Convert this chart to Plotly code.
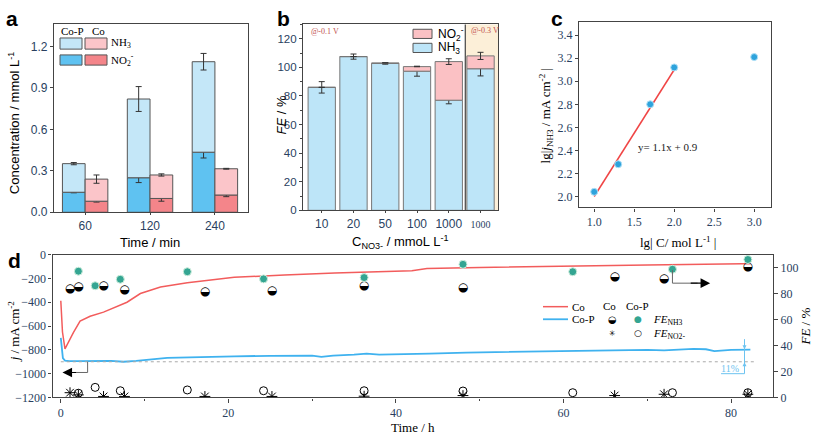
import plotly.graph_objects as go

W, H = 813, 441
def px(x): return x / W
def py(y): return 1 - y / H

SANS = "Liberation Sans, Arial, sans-serif"
SERIF = "Liberation Serif, Times New Roman, serif"

# ---------------- Panel a data ----------------
a_cats = ["60", "120", "240"]
a_cop_no2 = [0.145, 0.25, 0.435]
a_cop_total = [0.352, 0.82, 1.09]
a_cop_no2_err = [0.004, 0.035, 0.042]
a_cop_total_err = [0.008, 0.09, 0.06]
a_co_no2 = [0.08, 0.10, 0.125]
a_co_total = [0.24, 0.27, 0.315]
a_co_no2_err = [0.006, 0.02, 0.012]
a_co_total_err = [0.03, 0.008, 0.003]

# ---------------- Panel b data ----------------
b_cats = ["10", "20", "50", "100", "1000", "1000"]
b_nh3 = [86, 107.5, 102.7, 97.3, 77, 99]
b_nh3_err = [4, 1.8, 0.5, 3.5, 2.5, 5]
b_no2 = [0, 0, 0.4, 3.2, 27, 9]
b_total_err = [0, 0, 0, 0, 2, 2.5]

# ---------------- Panel c data ----------------
c_x = [1.0, 1.3, 1.7, 2.0, 3.0]
c_y = [2.04, 2.28, 2.80, 3.12, 3.21]
c_fit_x = [1.0, 2.0]
c_slope, c_intercept = 1.1, 0.9

# ---------------- Panel d data ----------------
d_co_t = [0, 0.2, 0.5, 0.9, 1.5, 2.3, 3.5, 5.1, 6.0, 7.0, 7.9, 9.5, 11.9, 15.1, 18.3,
          20.7, 26.7, 32.7, 41.9, 43.7, 50, 60.4, 70, 81.4, 82.3]
d_co_j = [-387, -650, -791, -736, -655, -559, -518, -483, -455, -425, -400, -327, -273,
          -237, -210, -191, -172, -155, -136, -117, -108, -95, -87, -76, -76]
d_cop_t = [0, 0.1, 0.25, 0.5, 1, 2, 4, 6, 7.5, 9, 12.7, 16, 20.7, 25, 30, 31.1, 32.5,
           35, 36.5, 38, 40.5, 44, 48.4, 52, 56, 60.4, 65, 70, 72, 75.5, 77, 78, 80, 82.3]
d_cop_j = [-700, -800, -870, -890, -895, -895, -893, -893, -900, -893, -867, -860, -854,
           -850, -848, -859, -848, -840, -832, -840, -839, -832, -823, -820, -815, -810,
           -805, -800, -805, -791, -795, -810, -800, -798]

co_fe_t = [1.1, 2.1, 5.1, 7.6, 17.2, 25.2, 36.2, 48.0, 66.1, 72.0, 82.0]
co_fe_nh3 = [83.8, 85.0, 85.5, 83.0, 81.1, 82.0, 85.5, 84.3, 93.0, 91.0, 100.5]
co_fe_no2 = [3.7, 2.0, 0.8, 0.8, 0.8, 0.8, 1.0, 1.5, 1.5, 2.5, 2.5]
cop_fe_t = [2.1, 4.1, 7.1, 15.1, 24.2, 36.2, 48.0, 61.1, 73.0, 82.0]
cop_fe_nh3 = [97.2, 86.0, 91.0, 96.8, 91.3, 92.3, 102.5, 96.8, 98.7, 106.2]
cop_fe_no2 = [3.3, 7.8, 5.2, 5.8, 5.2, 5.2, 5.0, 3.7, 3.7, 3.7]

# colours
C_COP_NH3 = "#c4e7f8"
C_COP_NO2 = "#5fc2f1"
C_CO_NH3 = "#fbc5c9"
C_CO_NO2 = "#f4858a"
EDGE = "#555555"
RED = "#f25c5c"
BLUE = "#3fb2ef"
TEAL = "#34a592"

fig = go.Figure()

# ---------------- Panel a ----------------
bw = 0.35
xi = list(range(len(a_cats)))
cop_x = [i - bw / 2 for i in xi]
co_x = [i + bw / 2 for i in xi]
ebar = lambda arr: dict(type="data", array=arr, color="#333", thickness=1, width=3)

fig.add_bar(x=cop_x, y=a_cop_no2, width=bw, marker=dict(color=C_COP_NO2, line=dict(color=EDGE, width=1)),
            error_y=ebar(a_cop_no2_err), xaxis="x", yaxis="y", showlegend=False)
fig.add_bar(x=cop_x, y=[t - n for t, n in zip(a_cop_total, a_cop_no2)], base=a_cop_no2, width=bw,
            marker=dict(color=C_COP_NH3, line=dict(color=EDGE, width=1)),
            error_y=ebar(a_cop_total_err), xaxis="x", yaxis="y", showlegend=False)
fig.add_bar(x=co_x, y=a_co_no2, width=bw, marker=dict(color=C_CO_NO2, line=dict(color=EDGE, width=1)),
            error_y=ebar(a_co_no2_err), xaxis="x", yaxis="y", showlegend=False)
fig.add_bar(x=co_x, y=[t - n for t, n in zip(a_co_total, a_co_no2)], base=a_co_no2, width=bw,
            marker=dict(color=C_CO_NH3, line=dict(color=EDGE, width=1)),
            error_y=ebar(a_co_total_err), xaxis="x", yaxis="y", showlegend=False)

# ---------------- Panel b ----------------
bxi = list(range(len(b_cats)))
fig.add_bar(x=bxi, y=b_nh3, width=0.86, marker=dict(color="#bde5f8", line=dict(color="#777", width=1)),
            error_y=ebar(b_nh3_err), xaxis="x2", yaxis="y2", showlegend=False)
fig.add_bar(x=bxi, y=b_no2, base=b_nh3, width=0.86, marker=dict(color="#fbc1c4", line=dict(color="#777", width=1)),
            error_y=dict(type="data", array=b_total_err, color="#333", thickness=1, width=3),
            xaxis="x2", yaxis="y2", showlegend=False)

# ---------------- Panel c ----------------
fig.add_scatter(x=c_fit_x, y=[c_slope * v + c_intercept for v in c_fit_x], mode="lines",
                line=dict(color="#f04545", width=1.5), xaxis="x3", yaxis="y3", showlegend=False)
fig.add_scatter(x=c_x, y=c_y, mode="markers",
                marker=dict(color="#2ea3dc", size=7, line=dict(color="#aee0f7", width=1)),
                xaxis="x3", yaxis="y3", showlegend=False)

# ---------------- Panel d ----------------
fig.add_scatter(x=d_co_t, y=d_co_j, mode="lines", line=dict(color=RED, width=1.5),
                xaxis="x4", yaxis="y4", showlegend=False)
fig.add_scatter(x=d_cop_t, y=d_cop_j, mode="lines", line=dict(color=BLUE, width=1.8),
                xaxis="x4", yaxis="y4", showlegend=False)
fig.add_scatter(x=co_fe_t, y=co_fe_nh3, mode="text", text=["◒"] * len(co_fe_t),
                textfont=dict(family="DejaVu Sans", size=12, color="black"),
                xaxis="x4", yaxis="y5", showlegend=False)
fig.add_scatter(x=cop_fe_t, y=cop_fe_nh3, mode="markers",
                marker=dict(color=TEAL, size=8, line=dict(color="#cfeedd", width=1)),
                xaxis="x4", yaxis="y5", showlegend=False)
fig.add_scatter(x=co_fe_t, y=co_fe_no2, mode="markers",
                marker=dict(symbol="asterisk-open", size=9, color="black", line=dict(color="black", width=1)),
                xaxis="x4", yaxis="y5", showlegend=False)
fig.add_scatter(x=cop_fe_t, y=cop_fe_no2, mode="markers",
                marker=dict(symbol="circle-open", size=8, color="black", line=dict(width=1)),
                xaxis="x4", yaxis="y5", showlegend=False)

shapes = []
annotations = []

# panel b: background for last category and separator
shapes.append(dict(type="rect", xref="x2", yref="y2 domain", x0=4.52, x1=5.55, y0=0, y1=1,
                   fillcolor="#fcefd8", line=dict(width=0), layer="below"))
shapes.append(dict(type="line", xref="x2", yref="y2 domain", x0=4.52, x1=4.52, y0=0, y1=1,
                   line=dict(color="#444", width=1.2)))

# panel d: dotted reference line
shapes.append(dict(type="line", xref="x4", yref="y4", x0=0, x1=83, y0=-900, y1=-900,
                   line=dict(color="#aaaaaa", width=1, dash="dot")))
# left bent arrow
shapes.append(dict(type="path", xref="x4", yref="y4", path="M 3.2,-900 L 3.2,-990 L 1.5,-990",
                   line=dict(color="#666", width=1)))
annotations.append(dict(xref="x4", yref="y4", x=0.2, y=-990, ax=2.0, ay=-990, axref="x4", ayref="y4",
                        showarrow=True, arrowhead=2, arrowsize=1.6, arrowwidth=1.2, arrowcolor="black", text=""))
# right bent arrow (FE axis)
shapes.append(dict(type="path", xref="x4", yref="y5", path="M 73,98 L 73,88 L 76,88",
                   line=dict(color="#666", width=1)))
annotations.append(dict(xref="x4", yref="y5", x=77.5, y=88, ax=75.0, ay=88, axref="x4", ayref="y5",
                        showarrow=True, arrowhead=2, arrowsize=1.6, arrowwidth=1.2, arrowcolor="black", text=""))
# 11% marker
shapes.append(dict(type="line", xref="x4", yref="y4", x0=81.6, x1=81.6, y0=-710, y1=-1000,
                   line=dict(color="#6cc3f0", width=1)))
shapes.append(dict(type="line", xref="x4", yref="y4", x0=78.8, x1=81.6, y0=-1000, y1=-1000,
                   line=dict(color="#6cc3f0", width=1)))
annotations.append(dict(xref="x4", yref="y4", x=81.6, y=-795, ax=81.6, ay=-730, axref="x4", ayref="y4",
                        showarrow=True, arrowhead=2, arrowsize=0.8, arrowwidth=1, arrowcolor="#6cc3f0", text=""))
annotations.append(dict(xref="x4", yref="y4", x=81.6, y=-905, ax=81.6, ay=-975, axref="x4", ayref="y4",
                        showarrow=True, arrowhead=2, arrowsize=0.8, arrowwidth=1, arrowcolor="#6cc3f0", text=""))
annotations.append(dict(xref="x4", yref="y4", x=79.9, y=-955, text="11%", showarrow=False,
                        font=dict(family=SERIF, size=10, color="#6cc3f0")))

# ---------------- legends ----------------
def rect(x0, y0, x1, y1, color):
    shapes.append(dict(type="rect", xref="paper", yref="paper", x0=px(x0), x1=px(x1), y0=py(y1), y1=py(y0),
                       fillcolor=color, line=dict(color=EDGE, width=1)))

def txt(x, y, s, size=11, family=SERIF, color="black", xanchor="center", angle=0, yanchor="middle"):
    annotations.append(dict(xref="paper", yref="paper", x=px(x), y=py(y), text=s, showarrow=False,
                            xanchor=xanchor, yanchor=yanchor, textangle=angle,
                            font=dict(family=family, size=size, color=color)))

# panel a legend
txt(72, 25, "Co-P", 11)
txt(98, 25, "Co", 11)
rect(60, 32, 82, 43.5, C_COP_NH3)
rect(85, 32, 107, 43.5, C_CO_NH3)
rect(60, 49.5, 82, 60, C_COP_NO2)
rect(85, 49.5, 107, 60, C_CO_NO2)
txt(109, 37.5, "NH<sub>3</sub>", 11, xanchor="left")
txt(109, 54.5, "NO<sub>2</sub><sup>-</sup>", 11, xanchor="left")

# panel b legend
rect(413, 23, 432, 32.5, "#fbc1c4")
rect(413, 37.5, 432, 47, "#bde5f8")
txt(436, 27.5, "NO<sub>2</sub><sup>-</sup>", 12, family=SANS, xanchor="left")
txt(436, 42, "NH<sub>3</sub>", 12, family=SANS, xanchor="left")
txt(309, 25, "@-0.1 V", 8, family=SERIF, color="#c0504d", xanchor="left")
txt(469, 24, "@-0.3 V", 8, family=SERIF, color="#c0504d", xanchor="left")

# panel c equation
annotations.append(dict(xref="x3", yref="y3", x=1.52, y=2.43, text="y= 1.1x + 0.9", showarrow=False,
                        xanchor="left", font=dict(family=SERIF, size=11, color="#222")))

# panel d legend
shapes.append(dict(type="line", xref="paper", yref="paper", x0=px(543), x1=px(568), y0=py(309.5), y1=py(309.5),
                   line=dict(color=RED, width=1.5)))
shapes.append(dict(type="line", xref="paper", yref="paper", x0=px(543), x1=px(568), y0=py(322.5), y1=py(322.5),
                   line=dict(color=BLUE, width=1.8)))
txt(570, 309.5, "Co", 11, xanchor="left")
txt(570, 322.5, "Co-P", 11, xanchor="left")
txt(609, 308.5, "Co", 11)
txt(637, 308.5, "Co-P", 11)
txt(612.5, 322.5, "◒", 10, family="DejaVu Sans")
txt(637.5, 322.5, "●", 9, family="DejaVu Sans", color=TEAL)
txt(612.5, 337, "✳", 8, family="DejaVu Sans")
txt(637.5, 337, "○", 9, family="DejaVu Sans")
txt(651, 323, "<i>FE</i><sub>NH3</sub>", 11, xanchor="left")
txt(651, 338, "<i>FE</i><sub>NO2-</sub>", 11, xanchor="left")

# panel letters
txt(4, 12, "<b>a</b>", 21, family=SANS, xanchor="left")
txt(275, 12, "<b>b</b>", 21, family=SANS, xanchor="left")
txt(549, 12, "<b>c</b>", 21, family=SANS, xanchor="left")
txt(6, 262, "<b>d</b>", 21, family=SANS, xanchor="left")

# axis titles
txt(14, 120, "Concentration / mmol L<sup>-1</sup>", 13, family=SANS, angle=-90)
txt(150, 243, "Time / min", 13, family=SANS)
txt(281, 112, "<i>FE</i> / %", 13, family=SANS, angle=-90)
txt(400, 243, "C<sub>NO3-</sub> / mmoL L<sup>-1</sup>", 13, family=SANS)
txt(546, 112, "lg|<i>j</i><sub>NH3</sub> / mA cm<sup>-2</sup> |", 13, family=SERIF, angle=-90)
txt(678, 243, "lg| C/ mol L<sup>-1</sup> |", 13, family=SERIF)
txt(14, 335, "<i>j</i> / mA cm<sup>-2</sup>", 13, family=SERIF, angle=-90)
txt(806, 330, "<i>FE</i> / %", 13, family=SERIF, angle=-90)
txt(413, 434, "Time / h", 13, family=SERIF)

def axline(tl=4):
    return dict(showline=True, linecolor="#444", linewidth=1.2, mirror=True, showgrid=False, zeroline=False,
                ticks="outside", ticklen=tl, tickcolor="#444")

fig.update_layout(
    width=W, height=H, margin=dict(l=0, r=0, t=0, b=0),
    paper_bgcolor="white", plot_bgcolor="white", barmode="overlay", showlegend=False,
    shapes=shapes, annotations=annotations,
    xaxis=dict(domain=[px(54), px(248)], range=[-0.48, 2.51], tickvals=xi, ticktext=a_cats,
               anchor="y", tickfont=dict(family=SANS, size=12), **axline(2)),
    yaxis=dict(domain=[py(212), py(18)], range=[0, 1.36], tickvals=[0, 0.3, 0.6, 0.9, 1.2],
               ticktext=["0.0", "0.3", "0.6", "0.9", "1.2"], anchor="x",
               tickfont=dict(family=SANS, size=12), **axline(3)),
    xaxis2=dict(domain=[px(303), px(498)], range=[-0.59, 5.55], tickvals=bxi,
                ticktext=b_cats[:5] + ["<span style='font-family:Liberation Serif;font-size:10px'>1000</span>"],
                anchor="y2", tickfont=dict(family=SANS, size=12), **axline(2)),
    yaxis2=dict(domain=[py(210), py(18)], range=[0, 130], tickvals=list(range(0, 121, 20)), anchor="x2",
                tickfont=dict(family=SANS, size=11.5),
                minor=dict(ticks="outside", ticklen=2, dtick=10, tickcolor="#444"), **axline(3)),
    xaxis3=dict(domain=[px(579), px(771)], range=[0.81, 3.21], tickvals=[1.0, 1.5, 2.0, 2.5, 3.0],
                tickformat=".1f", anchor="y3", tickfont=dict(family=SERIF, size=12), **axline(3)),
    yaxis3=dict(domain=[py(207), py(16)], range=[1.905, 3.51], tickvals=[2.0, 2.2, 2.4, 2.6, 2.8, 3.0, 3.2, 3.4],
                tickformat=".1f", anchor="x3", tickfont=dict(family=SERIF, size=12), **axline(3)),
    xaxis4=dict(domain=[px(52.5), px(773)], range=[-0.99, 85.0], tickvals=[0, 20, 40, 60, 80], anchor="y4",
                tickfont=dict(family=SERIF, size=12),
                minor=dict(ticks="outside", ticklen=2, dtick=10, tickcolor="#444"), **axline(4)),
    yaxis4=dict(domain=[py(403.3), py(255.7)], range=[-1200, 0], tickvals=list(range(-1200, 1, 200)),
                anchor="x4", tickfont=dict(family=SERIF, size=12), **axline(3)),
    yaxis5=dict(domain=[py(403.3), py(255.7)], range=[0, 110], tickvals=list(range(0, 101, 20)),
                overlaying="y4", side="right", anchor="x4", showline=True, linecolor="#444", linewidth=1.2,
                showgrid=False, zeroline=False, ticks="outside", ticklen=4, tickcolor="#444",
                tickfont=dict(family=SERIF, size=12)),
)

fig.write_html("out.html")
